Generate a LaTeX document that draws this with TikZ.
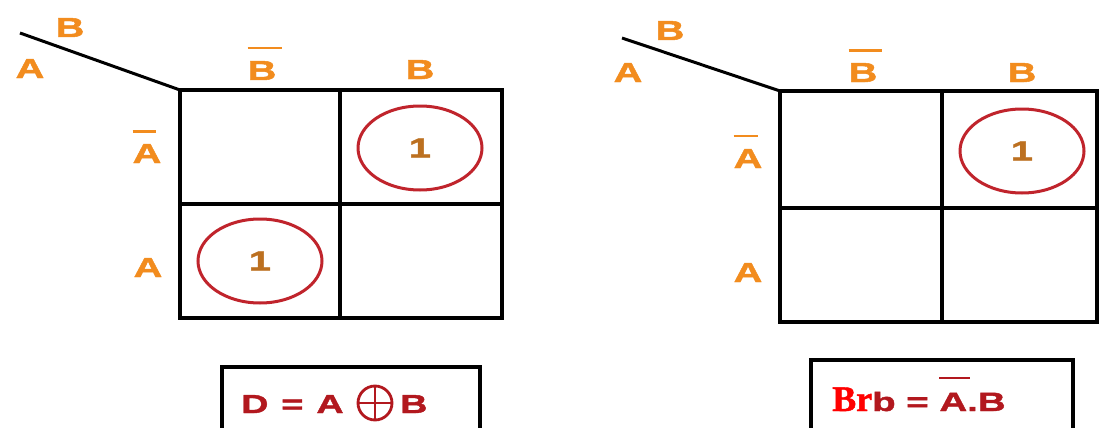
\documentclass[tikz,border=0pt]{standalone}
\usepackage{fontspec}
\newfontfamily\labfont{Liberation Sans}[FakeStretch=1.45,BoldFeatures={FakeBold=1.6}]
\newfontfamily\serfont{Liberation Serif}[BoldFeatures={FakeBold=1.2}]
\definecolor{labor}{RGB}{242,140,30}
\definecolor{onecol}{RGB}{188,112,32}
\definecolor{loopred}{RGB}{192,36,44}
\definecolor{fmlred}{RGB}{178,24,30}
\newcommand\obar[3]{\makebox[0pt][l]{\raisebox{#1}{\rule{#2}{2.4pt}}}#3}
\usetikzlibrary{shapes.geometric}
\begin{document}
\begin{tikzpicture}[x=1pt,y=-1pt,
  lab/.style={text=labor,font=\labfont\bfseries\fontsize{27.5}{30}\selectfont,inner sep=0pt,anchor=base},
  loopnode/.style={draw=loopred,line width=3pt,ellipse,minimum width=124pt,minimum height=84pt,inner sep=0pt,
     text=onecol,font=\labfont\bfseries\fontsize{27.5}{30}\selectfont},
  gridline/.style={line width=4.5pt,black},
  diag/.style={line width=3pt,black},
  fbox/.style={line width=4.5pt,black},
  fml/.style={text=fmlred,font=\labfont\bfseries\fontsize{26}{28}\selectfont,inner sep=0pt,anchor=base west}]
\useasboundingbox (0,0) rectangle (1100,428);
\fill[white] (0,0) rectangle (1100,428);

% ---------- left map ----------
\coordinate (lc) at (180,90);
\coordinate (ls) at (20,33);
\draw[diag] (ls) -- (lc);
\draw[gridline] (180,90) rectangle (502,318);
\draw[gridline] (340,90) -- (340,318);
\draw[gridline] (180,204) -- (502,204);
\node[lab] (lB) at (70,37) {B};
\node[lab] (lA) at (30,78) {A};
\node[lab] (lBn) at (262,80) {\obar{1.12em}{1.25em}{B}};
\node[lab] (lBp) at (420,79) {B};
\node[lab] (lAn) at (147,163) {\obar{1.1em}{0.85em}{A}};
\node[lab] (lAp) at (148,277) {A};
\node[loopnode] (l1) at (420,148) {1};
\node[loopnode] (l2) at (260,261) {1};

% ---------- right map ----------
\coordinate (rc) at (780,91);
\coordinate (rs) at (622,38);
\draw[diag] (rs) -- (rc);
\draw[gridline] (780,91) rectangle (1097,322);
\draw[gridline] (942,91) -- (942,322);
\draw[gridline] (780,208) -- (1097,208);
\node[lab] (rB) at (670,40) {B};
\node[lab] (rA) at (628,82) {A};
\node[lab] (rBn) at (863,82) {\obar{1.1em}{1.2em}{B}};
\node[lab] (rBp) at (1022,82) {B};
\node[lab] (rAn) at (748,168) {\obar{1.12em}{0.9em}{A}};
\node[lab] (rAp) at (748,282) {A};
\node[loopnode] (r1) at (1022,151) {1};

% ---------- formula boxes ----------
\draw[fbox] (222,428) -- (222,367) -- (480,367) -- (480,428);
\node[fml] (f1a) at (241,413) {D\hspace{0.5em}=\hspace{0.5em}A};
\node[draw=fmlred,line width=2.8pt,circle,minimum size=34pt,inner sep=0pt,
  path picture={\draw[fmlred,line width=2.8pt] (path picture bounding box.north) -- (path picture bounding box.south)
     (path picture bounding box.west) -- (path picture bounding box.east);}] (xor) at (375,403) {};
\node[fml] (f1b) at (400,413) {B};

\draw[fbox] (811,428) -- (811,360) -- (1073,360) -- (1073,428);
\node[inner sep=0pt,anchor=base west,text=fmlred] (f2) at (832,411)
  {{\color{red}\serfont\bfseries\fontsize{36}{38}\selectfont Br}{\labfont\bfseries\fontsize{26.5}{28}\selectfont b = \obar{1.2em}{1.15em}{A}.B}};
\end{tikzpicture}
\end{document}
